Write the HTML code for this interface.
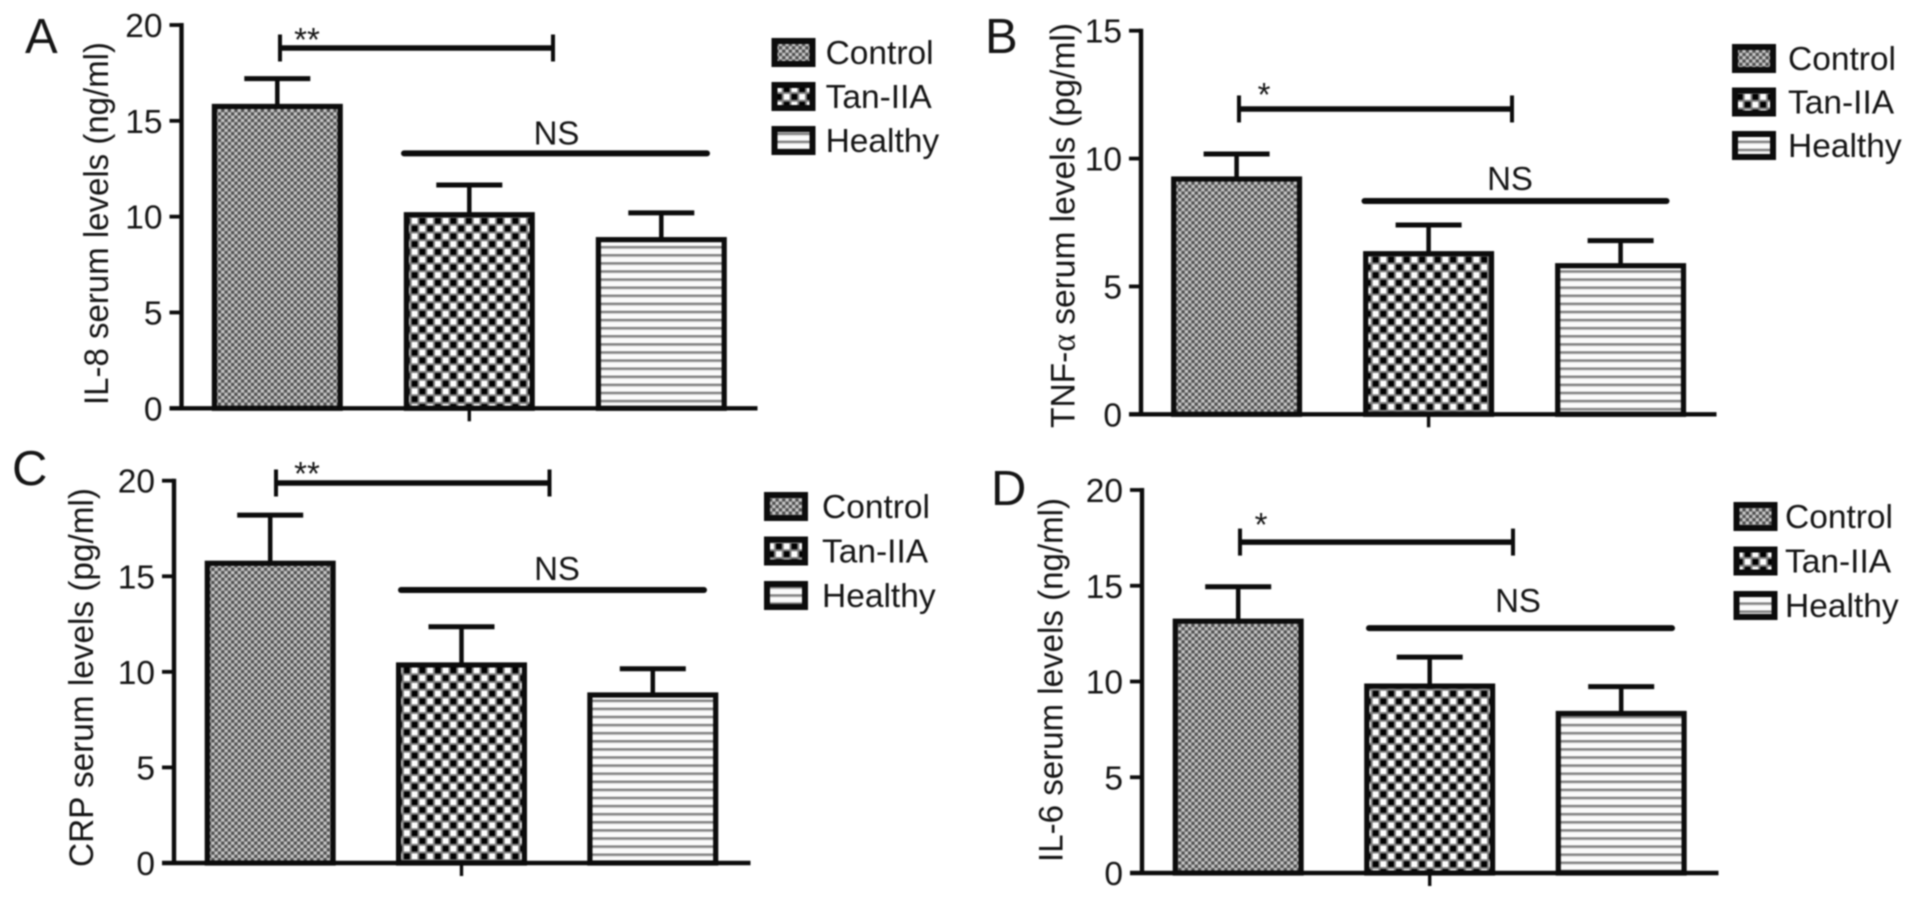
<!DOCTYPE html>
<html>
<head>
<meta charset="utf-8">
<title>Serum cytokine levels</title>
<style>
html,body{margin:0;padding:0;background:#fff;width:1913px;height:899px;overflow:hidden}
svg{display:block;filter:blur(0.8px)}
text{font-family:"Liberation Sans",sans-serif;fill:#151515}
</style>
</head>
<body>
<svg id="figure" xmlns="http://www.w3.org/2000/svg" width="1913" height="899" viewBox="0 0 1913 899">
<defs>
<pattern id="pat-control" patternUnits="userSpaceOnUse" width="6.6" height="6.6">
<rect width="6.6" height="6.6" fill="#c6c6c6"/>
<rect width="3.3" height="3.3" fill="#505050"/>
<rect x="3.3" y="3.3" width="3.3" height="3.3" fill="#505050"/>
</pattern>
<pattern id="pat-tan" patternUnits="userSpaceOnUse" width="15.5" height="15.5">
<rect width="15.5" height="15.5" fill="#808080"/>
<rect x="1" y="1" width="5.75" height="5.75" fill="#000"/>
<rect x="8.75" y="8.75" width="5.75" height="5.75" fill="#000"/>
<rect x="8.75" y="1" width="5.75" height="5.75" fill="#fff"/>
<rect x="1" y="8.75" width="5.75" height="5.75" fill="#fff"/>
</pattern>
<pattern id="pat-healthy" patternUnits="userSpaceOnUse" width="10" height="8.1">
<rect width="10" height="8.1" fill="#fbfbfb"/>
<rect y="3" width="10" height="2.2" fill="#7c7c7c"/>
<rect y="5.2" width="10" height="1" fill="#d6d6d6"/>
</pattern>
</defs>
</svg>
<script>
const categories = ['Control', 'Tan-IIA', 'Healthy'];
const patternIds = ['pat-control', 'pat-tan', 'pat-healthy'];

const il8Means = [15.75, 10.1, 8.8];
const il8Errors = [1.45, 1.55, 1.4];
const il8Ticks = [0, 5, 10, 15, 20];

const tnfMeans = [9.2, 6.28, 5.81];
const tnfErrors = [0.98, 1.12, 0.98];
const tnfTicks = [0, 5, 10, 15];

const crpMeans = [15.68, 10.36, 8.79];
const crpErrors = [2.52, 2.0, 1.37];
const crpTicks = [0, 5, 10, 15, 20];

const il6Means = [13.15, 9.76, 8.33];
const il6Errors = [1.8, 1.51, 1.4];
const il6Ticks = [0, 5, 10, 15, 20];

const il8Brackets = [18.8, 13.3];
const tnfBrackets = [11.94, 8.34];
const crpBrackets = [19.88, 14.28];
const il6Brackets = [17.28, 12.79];

const panels = [
  {key:'il8', letter:'A', letterX:25, letterY:53, title:'IL-8 serum levels (ng/ml)', titleX:98, titleTop:42, titleBottom:405,
   means:il8Means, errors:il8Errors, ticks:il8Ticks, brackets:il8Brackets, stars:'**',
   axisX:181.5, xEnd:757.5, y0:408.3, yTop:25, center0:277.3, step:192, barW:131,
   brL:280, brR:553, starX:307, starY:33, nsL:404, nsR:707, nsX:556.5, nsGap:21,
   legX:771.5, legW:44, legY:38, legH:29, legStep:44, legText:825.6},
  {key:'tnf', letter:'B', letterX:985, letterY:53, title:'TNF-|α| serum levels (pg/ml)', titleX:1064.5, titleTop:23, titleBottom:428,
   means:tnfMeans, errors:tnfErrors, ticks:tnfTicks, brackets:tnfBrackets, stars:'*',
   axisX:1141, xEnd:1716.5, y0:414.3, yTop:30.7, center0:1236.6, step:192, barW:131,
   brL:1239, brR:1512, starX:1264, starY:88, nsL:1364.5, nsR:1666.5, nsX:1510, nsGap:23,
   legX:1732, legW:44, legY:44, legH:29, legStep:43.5, legText:1788},
  {key:'crp', letter:'C', letterX:12, letterY:485, title:'CRP serum levels (pg/ml)', titleX:83, titleTop:488, titleBottom:867,
   means:crpMeans, errors:crpErrors, ticks:crpTicks, brackets:crpBrackets, stars:'**',
   axisX:174, xEnd:750.5, y0:863, yTop:480.7, center0:270.2, step:191.3, barW:131,
   brL:276, brR:549.5, starX:307, starY:467, nsL:401, nsR:704, nsX:557, nsGap:22,
   legX:764, legW:44, legY:492, legH:29, legStep:44.5, legText:822},
  {key:'il6', letter:'D', letterX:991, letterY:505, title:'IL-6 serum levels (ng/ml)', titleX:1052.5, titleTop:498, titleBottom:862,
   means:il6Means, errors:il6Errors, ticks:il6Ticks, brackets:il6Brackets, stars:'*',
   axisX:1142, xEnd:1718.5, y0:873, yTop:490, center0:1238.2, step:191.5, barW:131,
   brL:1240, brR:1513, starX:1261, starY:518, nsL:1369, nsR:1672, nsX:1518, nsGap:28,
   legX:1733.5, legW:44, legY:502, legH:29, legStep:44.5, legText:1785}
];

const SVG_NS = 'http://www.w3.org/2000/svg';
const figure = document.getElementById('figure');

function mk(tag, attrs, parent, content) {
  const node = document.createElementNS(SVG_NS, tag);
  for (const k in attrs) node.setAttribute(k, attrs[k]);
  if (content !== undefined) node.textContent = content;
  parent.appendChild(node);
  return node;
}
function line(parent, x1, y1, x2, y2, w) {
  return mk('line', {x1:x1, y1:y1, x2:x2, y2:y2, stroke:'#0c0c0c', 'stroke-width':w, 'stroke-linecap':'butt'}, parent);
}

panels.forEach(function (p) {
  const yMax = p.ticks[p.ticks.length - 1];
  const yScale = function (v) { return p.y0 - (v / yMax) * (p.y0 - p.yTop); };
  const xScale = function (i) { return p.center0 + i * p.step; };

  const g = mk('g', {}, figure);
  
  

  const letter = mk('text', {x:p.letterX, y:p.letterY, 'font-size':49}, g, p.letter);
  
  

  // y-axis title (the Greek letter is set in a serif face)
  const cy = (p.titleTop + p.titleBottom) / 2;
  const title = mk('text', {
    x:0, y:0, 'font-size':34, 'text-anchor':'middle',
    textLength:p.titleBottom - p.titleTop, lengthAdjust:'spacingAndGlyphs',
    transform:'translate(' + (p.titleX + 10) + ',' + cy + ') rotate(-90)'
  }, g);
  
  
  p.title.split('|').forEach(function (part) {
    const span = mk('tspan', part === 'α' ? {'font-family':'"Liberation Serif",serif'} : {}, title, part);
    
    
  });

  // bars and error bars
  categories.forEach(function (cat, i) {
    const cx = xScale(i);
    const top = yScale(p.means[i]);
    const cap = yScale(p.means[i] + p.errors[i]);

    const stem = line(g, cx, top, cx, cap, 4.5);
    
    

    const capLine = line(g, cx - 33, cap, cx + 33, cap, 5);
    
    

    const bar = mk('rect', {
      x:cx - p.barW / 2 + 2.6, y:top, width:p.barW - 5.2, height:p.y0 - top,
      fill:'url(#' + patternIds[i] + ')', stroke:'#0c0c0c', 'stroke-width':5.2
    }, g);
    
    
  });

  // axes
  const yAxis = line(g, p.axisX, p.yTop - 2, p.axisX, p.y0, 4.4);
  
  

  const xAxis = line(g, p.axisX - 12, p.y0, p.xEnd, p.y0, 4.4);
  
  

  const xTick = line(g, xScale(1), p.y0, xScale(1), p.y0 + 13, 3.4);
  
  

  p.ticks.forEach(function (t) {
    const ty = yScale(t);
    const tick = line(g, p.axisX - 12, ty, p.axisX, ty, 3.8);
    
    

    const label = mk('text', {x:p.axisX - 19, y:ty + 12, 'font-size':33.5, 'text-anchor':'end'}, g, String(t));
    
    
  });

  // significance bracket
  const brY = yScale(p.brackets[0]);
  const brLine = line(g, p.brL, brY, p.brR, brY, 5.5);
  
  
  const brLeft = line(g, p.brL, brY - 13.5, p.brL, brY + 13.5, 4);
  
  
  const brRight = line(g, p.brR, brY - 13.5, p.brR, brY + 13.5, 4);
  
  

  const star = mk('text', {x:p.starX, y:p.starY + 18, 'font-size':33, 'text-anchor':'middle'}, g, p.stars);
  
  

  // NS line
  const nsY = yScale(p.brackets[1]);
  const nsLine = mk('line', {x1:p.nsL, y1:nsY, x2:p.nsR, y2:nsY, stroke:'#0c0c0c', 'stroke-width':6, 'stroke-linecap':'round'}, g);
  
  

  const ns = mk('text', {x:p.nsX, y:nsY - p.nsGap + 12, 'font-size':33, 'text-anchor':'middle'}, g, 'NS');
  
  

  // legend
  categories.forEach(function (cat, i) {
    const ly = p.legY + i * p.legStep;
    const swatch = mk('rect', {
      x:p.legX + 3, y:ly + 3, width:p.legW - 6, height:p.legH - 6,
      fill:'url(#' + patternIds[i] + ')', stroke:'#0c0c0c', 'stroke-width':6
    }, g);
    
    

    const lab = mk('text', {x:p.legText, y:ly + p.legH / 2 + 11.5, 'font-size':33.5}, g, cat);
    
    
  });
});
</script>
</body>
</html>
